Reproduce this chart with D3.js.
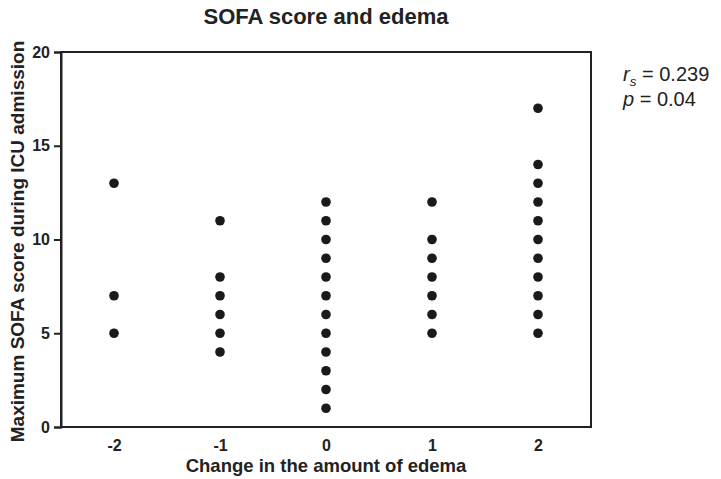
<!DOCTYPE html>
<html>
<head>
<meta charset="utf-8">
<script src="https://cdn.jsdelivr.net/npm/d3@7"></script>
<style>
  body { margin: 0; background: #fff; }
  svg text { font-family: "Liberation Sans", Arial, sans-serif; fill: #222; }
</style>
</head>
<body>
<svg id="chart" width="721" height="479"></svg>
<script>
// Change in edema per group and the maximum SOFA scores observed in each
const edemaChange = [-2, -1, 0, 1, 2];
const sofaAtMinus2 = [13, 7, 5];
const sofaAtMinus1 = [11, 8, 7, 6, 5, 4];
const sofaAtZero = [12, 11, 10, 9, 8, 7, 6, 5, 4, 3, 2, 1];
const sofaAtPlus1 = [12, 10, 9, 8, 7, 6, 5];
const sofaAtPlus2 = [17, 14, 13, 12, 11, 10, 9, 8, 7, 6, 5];
const yTicks = [0, 5, 10, 15, 20];

const groups = [sofaAtMinus2, sofaAtMinus1, sofaAtZero, sofaAtPlus1, sofaAtPlus2];
const points = [];
groups.forEach((vals, i) => vals.forEach(v => points.push({ x: edemaChange[i], y: v })));

const svg = d3.select("#chart");
const plotLeft = 61, plotRight = 591, plotTop = 52, plotBottom = 427;

const x = d3.scaleLinear().domain([-2.5, 2.5]).range([plotLeft, plotRight]);
const y = d3.scaleLinear().domain([0, 20]).range([plotBottom, plotTop]);

// frame
svg.append("rect")
  .attr("x", plotLeft).attr("y", plotTop)
  .attr("width", plotRight - plotLeft).attr("height", plotBottom - plotTop)
  .attr("fill", "none").attr("stroke", "#222").attr("stroke-width", 2);

// y axis
const yAxis = svg.append("g")
  .attr("transform", `translate(${plotLeft},0)`)
  .call(d3.axisLeft(y).tickValues(yTicks).tickSize(7).tickPadding(4));
yAxis.select(".domain").attr("stroke", "#222").attr("stroke-width", 2);
yAxis.selectAll(".tick line").attr("stroke", "#222").attr("stroke-width", 2);
yAxis.selectAll(".tick text")
  .attr("font-size", 16).attr("font-weight", "bold")
  .style("font-family", "'Liberation Sans', Arial, sans-serif").attr("fill", "#222");

// x axis (labels only, plain hyphen for negatives)
const xAxis = svg.append("g")
  .attr("transform", `translate(0,${plotBottom})`)
  .call(d3.axisBottom(x).tickValues(edemaChange).tickSize(0).tickPadding(13).tickFormat(d => String(d)));
xAxis.select(".domain").remove();
xAxis.selectAll(".tick text")
  .attr("font-size", 16).attr("font-weight", "bold")
  .style("font-family", "'Liberation Sans', Arial, sans-serif").attr("fill", "#222");

// points
svg.append("g").selectAll("circle")
  .data(points)
  .join("circle")
  .attr("cx", d => x(d.x))
  .attr("cy", d => y(d.y))
  .attr("r", 4.8)
  .attr("fill", "#1a1a1a");

// title
svg.append("text")
  .attr("x", (plotLeft + plotRight) / 2).attr("y", 24)
  .attr("text-anchor", "middle")
  .attr("font-size", 22).attr("font-weight", "bold")
  .text("SOFA score and edema");

// axis titles
svg.append("text")
  .attr("x", (plotLeft + plotRight) / 2).attr("y", 472)
  .attr("text-anchor", "middle")
  .attr("font-size", 18.5).attr("font-weight", "bold")
  .text("Change in the amount of edema");

svg.append("text")
  .attr("transform", `translate(24,${(plotTop + plotBottom) / 2 + 2}) rotate(-90)`)
  .attr("text-anchor", "middle")
  .attr("font-size", 19).attr("font-weight", "bold")
  .text("Maximum SOFA score during ICU admission");

// correlation statistics
const stats = svg.append("g").attr("font-size", 20);
const rs = stats.append("text").attr("x", 623).attr("y", 81);
rs.append("tspan").attr("font-style", "italic").text("r");
rs.append("tspan").attr("font-style", "italic").attr("font-size", 13.5).attr("dy", 5).text("s");
rs.append("tspan").attr("dy", -5).text(" = 0.239");
const pv = stats.append("text").attr("x", 623).attr("y", 106);
pv.append("tspan").attr("font-style", "italic").text("p");
pv.append("tspan").text(" = 0.04");
</script>
</body>
</html>
